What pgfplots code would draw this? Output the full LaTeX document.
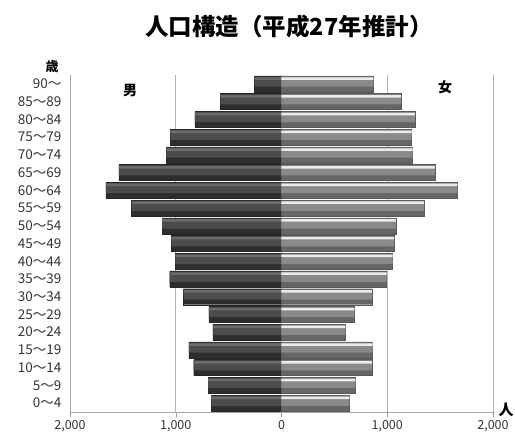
\documentclass[border=0pt]{standalone}
\usepackage{fontspec}
\setmainfont{Noto Sans CJK JP}
\usepackage{pgfplots}
\usepackage{pgfplotstable}
\pgfplotsset{compat=1.18}

% population by age group (0~4 at row 0 ... 90~ at row 18)
\pgfplotstableread{
y v
0 -663
1 -695
2 -830
3 -877
4 -648
5 -686
6 -925
7 -1057
8 -1003
9 -1041
10 -1129
11 -1418
12 -1660
13 -1538
14 -1088
15 -1050
16 -820
17 -578
18 -255
}\male
\pgfplotstableread{
y v
0 642
1 698
2 855
3 862
4 604
5 689
6 855
7 993
8 1050
9 1066
10 1082
11 1349
12 1663
13 1450
14 1239
15 1230
16 1261
17 1129
18 868
}\female

\begin{document}
\begin{tikzpicture}[x=1pt,y=1pt]
\useasboundingbox (0,0) rectangle (515,432);
\begin{axis}[at={(70pt,20pt)}, anchor=south west,
  scale only axis, width=423pt, height=337pt,
  xmin=-2000, xmax=2000, ymin=-0.5, ymax=18.5,
  axis x line*=bottom, axis y line*=left,
  axis line style={draw=black!35},
  xtick={-2000,-1000,0,1000,2000},
  xticklabels={2{,}000,1{,}000,0,1{,}000,2{,}000},
  tick align=outside, major tick length=5pt,
  xtick style={draw=black!40},
  xticklabel style={font=\fontsize{12.5}{12.5}\selectfont, yshift=0pt},
  ytick={0,...,18},
  yticklabels={0～4,5～9,10～14,15～19,20～24,25～29,30～34,35～39,40～44,45～49,50～54,55～59,60～64,65～69,70～74,75～79,80～84,85～89,90～},
  ytick style={draw=none},
  yticklabel style={font=\fontsize{13.5}{13.5}\selectfont},
  ticklabel style={text=black!80},
  xmajorgrids, grid style={draw=black!30, line width=0.8pt},
  xbar, bar width=16pt, bar shift=0pt,
]
% male: base bar and bevel layers
\addplot[draw=black!85, fill=black!82] table[x=v,y=y]{\male};
\addplot[draw=none, fill=black!70, bar width=10pt, bar shift=2.2pt] table[x=v,y=y]{\male};
\addplot[draw=none, fill=black!58, bar width=2.5pt, bar shift=5.3pt] table[x=v,y=y]{\male};
% female: base bar and bevel layers
\addplot[draw=black!65, fill=black!60] table[x=v,y=y]{\female};
\addplot[draw=none, fill=black!46, bar width=10pt, bar shift=2.2pt] table[x=v,y=y]{\female};
\addplot[draw=none, fill=black!8, bar width=2.5pt, bar shift=5.3pt] table[x=v,y=y]{\female};
\end{axis}
\node[font=\fontsize{23.5}{23.5}\selectfont\bfseries] at (289,405) {人口構造（平成27年推計）};
\node[font=\fontsize{13}{13}\selectfont\bfseries] at (52,365) {歳};
\node[font=\fontsize{14}{14}\selectfont\bfseries] at (130,341) {男};
\node[font=\fontsize{14}{14}\selectfont\bfseries] at (445,345) {女};
\node[font=\fontsize{15}{15}\selectfont\bfseries] at (506,22) {人};
\end{tikzpicture}
\end{document}
